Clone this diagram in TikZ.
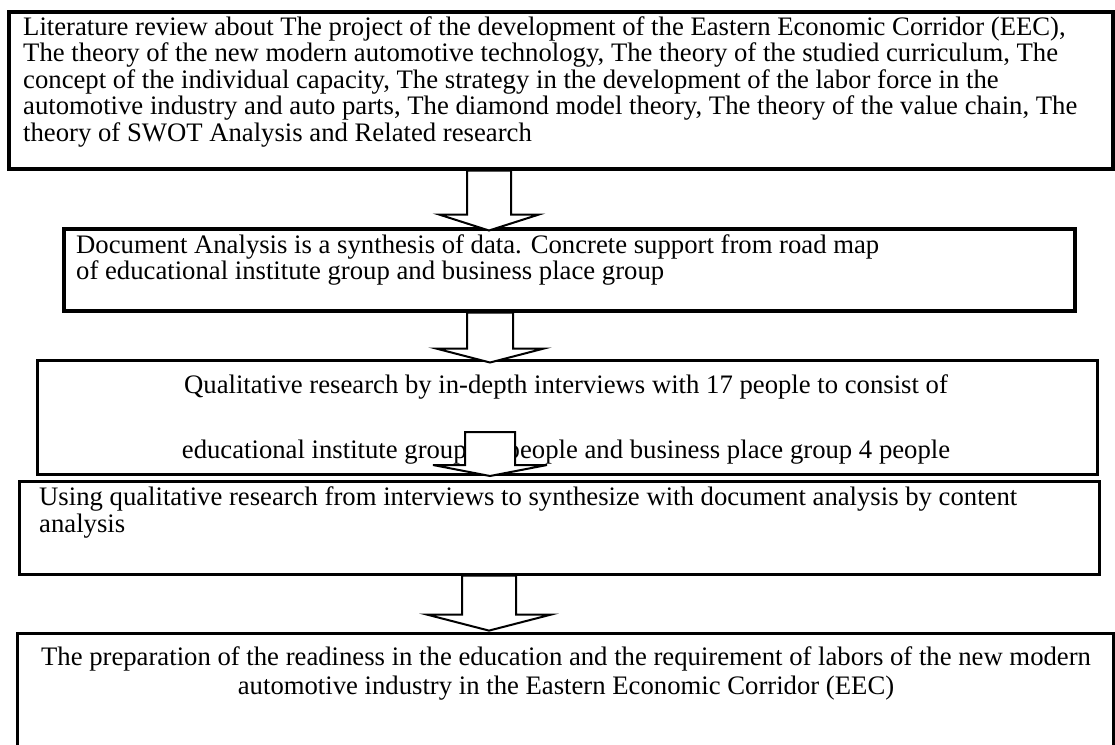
\documentclass[tikz,border=0pt]{standalone}
\usepackage{fontspec}
\setmainfont{Liberation Serif}
\usetikzlibrary{calc}
\tikzset{
  box/.style={draw=black, fill=none, rectangle, inner sep=0pt, anchor=north west},
  thickbox/.style={box, line width=3.5pt},
  thinbox/.style={box, line width=2.6pt},
  txt/.style={inner sep=0pt, font=\fontsize{26.7}{26.5}\selectfont},
  arrowline/.style={draw=black, fill=white, line width=2pt, line join=miter},
}
\newcommand{\blockarr}[5]{% #1 start coordinate, #2 shaft half width, #3 wing half width, #4 shaft length, #5 head length
  \draw[arrowline] (#1) ++(-#2,0) -- ++({2*#2},0) -- ++(0,#4) -- ++({#3-#2},0)
     -- ++(-#3,#5) -- ++(-#3,-#5) -- ++({#3-#2},0) -- cycle;}
\begin{document}
\begin{tikzpicture}[x=1pt,y=-1pt]
\useasboundingbox (0,0) rectangle (1115,744);
\clip (0,0) rectangle (1115,744);
% boxes
\node[thickbox, minimum width=1104pt, minimum height=157pt] (b1) at (7,10) {};
\node[thickbox, minimum width=1011pt, minimum height=82pt] (b2) at (62,227) {};
\node[thinbox, minimum width=1060pt, minimum height=114pt] (b3) at (36,359) {};
\node[thinbox, minimum width=1080pt, minimum height=93pt] (b4) at (18,480) {};
\node[thinbox, minimum width=1096pt, minimum height=140pt] (b5) at (16,632) {};
% texts box 1
\node[txt, anchor=base west] (t11) at (23,35) {Literature review about The project of the development of the Eastern Economic Corridor (EEC),};
\node[txt, anchor=base west] (t12) at (23,61.5) {The theory of the new modern automotive technology, The theory of the studied curriculum, The};
\node[txt, anchor=base west] (t13) at (23,88) {concept of the individual capacity, The strategy in the development of the labor force in the};
\node[txt, anchor=base west] (t14) at (23,114.5) {automotive industry and auto parts, The diamond model theory, The theory of the value chain, The};
\node[txt, anchor=base west] (t15) at (23,141) {theory of SWOT Analysis and Related research};
% box 2
\node[txt, anchor=base west] (t21) at (76,253) {Document Analysis is a synthesis of data. Concrete support from road map};
\node[txt, anchor=base west] (t22) at (76,279) {of educational institute group and business place group};
% box 3
\node[txt, anchor=base] (t31) at (566,393) {Qualitative research by in-depth interviews with 17 people to consist of};
\node[txt, anchor=base] (t32) at (566,458) {educational institute group 13 people and business place group 4 people};
% box 4
\node[txt, anchor=base west] (t41) at (39,505) {Using qualitative research from interviews to synthesize with document analysis by content};
\node[txt, anchor=base west] (t42) at (39,532) {analysis};
% box 5
\node[txt, anchor=base] (t51) at (566,665) {The preparation of the readiness in the education and the requirement of labors of the new modern};
\node[txt, anchor=base] (t52) at (566,694) {automotive industry in the Eastern Economic Corridor (EEC)};
% block arrows
\coordinate (a1) at ($(b1.south west)+(482,0)$);
\coordinate (a2) at ($(b2.south west)+(428,0)$);
\coordinate (a3) at (490,432);
\coordinate (a4) at ($(b4.south west)+(471,0)$);
\blockarr{a1}{22}{50}{44}{16}
\blockarr{a2}{23}{54}{36}{14}
\blockarr{a3}{25}{57}{33}{11}
\blockarr{a4}{27}{62}{39}{16}
\end{tikzpicture}
\end{document}
